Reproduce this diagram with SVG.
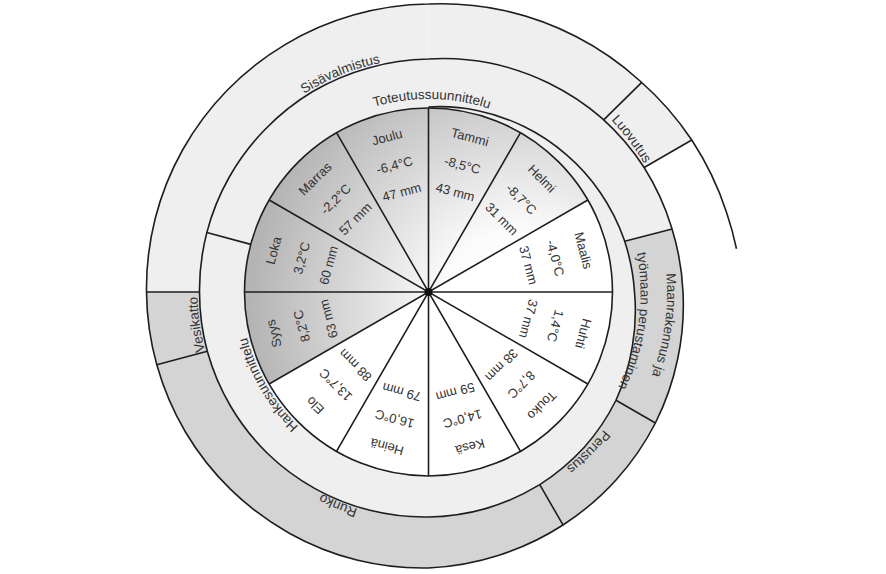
<svg xmlns="http://www.w3.org/2000/svg" width="886" height="574" viewBox="0 0 886 574">
<defs>
<style>
.ln{fill:none;stroke:#1e1e1e;stroke-width:1.6}
.lt{fill:#efefef}
.gr{fill:#d4d4d4}
text{font-family:"Liberation Sans",Arial,sans-serif;fill:#333}
.m{font-size:13px;text-anchor:middle}
.p{font-size:13.5px;text-anchor:middle}
.sh{fill:url(#wg)}
.wh{fill:#ffffff}
</style>
<radialGradient id="wg" gradientUnits="userSpaceOnUse" cx="520" cy="310" r="270">
<stop offset="0" stop-color="#ffffff"/>
<stop offset="0.3" stop-color="#fbfbfb"/>
<stop offset="1" stop-color="#b4b4b4"/>
</radialGradient>
<path id="tp1" d="M282.84 165.38 A193 193 0 0 1 578.49 170.54"/>
<path id="tp2" d="M205.95 219.69 A234 234 0 0 1 538.36 85.39"/>
<path id="tp3" d="M441.64 41.34 A251 251 0 0 1 673.07 348.46"/>
<path id="tp4" d="M605.74 132.41 A238.5 238.5 0 0 1 554.89 494.26"/>
<path id="tp5" d="M586.05 150.14 A212 212 0 0 1 540.84 471.79"/>
<path id="tp6" d="M650.65 272.56 A223 223 0 0 1 409.06 514.15"/>
<path id="tp7" d="M532.01 495.15 A228 228 0 0 1 210.46 358.66"/>
<path id="tp8" d="M306.09 487.9 A231 231 0 0 1 256.83 137.43"/>
<path id="tp9" d="M396.03 476.16 A187 187 0 0 1 252.78 228.04"/>
</defs>
<rect width="886" height="574" fill="#ffffff"/>
<g id="bands">
<path class="lt" d="M428.5 59 A235 235 0 0 1 489.84 63.08 A239 239 0 0 1 549 83.29 A243.3 243.3 0 0 1 602.09 118.41 A247.3 247.3 0 0 1 644.14 167.5 A250.3 250.3 0 0 1 671.43 226.91 A253 253 0 0 1 683 292 A256.3 256.3 0 0 1 677.71 358.78 A260 260 0 0 1 655.4 423 A263.8 263.8 0 0 1 616.24 479.74 A267.3 267.3 0 0 1 563 524.96 A270.8 270.8 0 0 1 499.03 555.21 A274.3 274.3 0 0 1 428.5 568 A276.8 276.8 0 0 1 356.68 560.04 A278 278 0 0 1 289.25 533.19 A279 279 0 0 1 230.86 489.64 A280 280 0 0 1 185.58 432.25 A281 281 0 0 1 156.79 364.81 A281.7 281.7 0 0 1 146.5 292 A282.5 282.5 0 0 1 155.14 218.75 A283.5 283.5 0 0 1 182.55 150 A284.5 284.5 0 0 1 226.97 90.47 A285.5 285.5 0 0 1 285.5 44.32 A286.5 286.5 0 0 1 354.22 14.78 A287.5 287.5 0 0 1 428.5 4 Z"/>
<path class="lt" d="M428.5 4 A289.8 289.8 0 0 1 503.95 10.43 A293.3 293.3 0 0 1 576 36.52 A296.9 296.9 0 0 1 639.78 80.72 A301.4 301.4 0 0 1 691.77 140 L644.14 167.5 A247.3 247.3 0 0 0 602.09 118.41 A243.3 243.3 0 0 0 549 83.29 A239 239 0 0 0 489.84 63.08 A235 235 0 0 0 428.5 59 Z"/>
<path class="gr" d="M672.09 229 A253 253 0 0 1 683 292 A256.3 256.3 0 0 1 677.71 358.78 A260 260 0 0 1 655.4 423 A263.8 263.8 0 0 1 616.24 479.74 A267.3 267.3 0 0 1 563 524.96 A270.8 270.8 0 0 1 499.03 555.21 A274.3 274.3 0 0 1 428.5 568 A276.8 276.8 0 0 1 356.68 560.04 A278 278 0 0 1 289.25 533.19 A279 279 0 0 1 230.86 489.64 A280 280 0 0 1 185.58 432.25 A281 281 0 0 1 156.79 364.81 A281.7 281.7 0 0 1 146.5 292 L199.5 292 A229 229 0 0 0 207.3 351.27 A228.8 228.8 0 0 0 230.61 406.25 A228.3 228.3 0 0 0 267.28 453.22 A227.5 227.5 0 0 0 315 488.59 A226.5 226.5 0 0 0 370.01 510.3 A225.5 225.5 0 0 0 428.5 517 A224.5 224.5 0 0 0 486.47 508.37 A223.3 223.3 0 0 0 539.75 484.69 A221.3 221.3 0 0 0 584.06 447.56 A218.3 218.3 0 0 0 615.99 400.25 A213.8 213.8 0 0 0 632.31 346.61 A208.5 208.5 0 0 0 634.5 292 A204.3 204.3 0 0 0 624.65 241.27 Z"/>
</g>
<g id="connectors">
<path class="ln" d="M428.5 107 A186.5 186.5 0 0 1 477.16 110.41 A189.5 189.5 0 0 1 524 126.59 A192.8 192.8 0 0 1 566.03 154.47 A196.5 196.5 0 0 1 600.4 192.75 A200.5 200.5 0 0 1 624.1 239.59 A204.3 204.3 0 0 1 634.5 292 A208.5 208.5 0 0 1 632.31 346.61 A213.8 213.8 0 0 1 615.99 400.25 A218.3 218.3 0 0 1 584.06 447.56 A221.3 221.3 0 0 1 539.75 484.69 A223.3 223.3 0 0 1 486.47 508.37 A224.5 224.5 0 0 1 428.5 517 A225.5 225.5 0 0 1 370.01 510.3 A226.5 226.5 0 0 1 315 488.59 A227.5 227.5 0 0 1 267.28 453.22 A228.3 228.3 0 0 1 230.61 406.25 A228.8 228.8 0 0 1 207.3 351.27 A229 229 0 0 1 199.5 292 A229.3 229.3 0 0 1 206.82 232.6 A229.8 229.8 0 0 1 229.31 177 A230.3 230.3 0 0 1 265.51 129.01 A231 231 0 0 1 312.75 91.52 A231.8 231.8 0 0 1 368.45 67.91 A232.5 232.5 0 0 1 428.5 59 A235 235 0 0 1 489.84 63.08 A239 239 0 0 1 549 83.29 A243.3 243.3 0 0 1 602.09 118.41 A247.3 247.3 0 0 1 644.14 167.5 A250.3 250.3 0 0 1 671.43 226.91 A253 253 0 0 1 683 292 A256.3 256.3 0 0 1 677.71 358.78 A260 260 0 0 1 655.4 423 A263.8 263.8 0 0 1 616.24 479.74 A267.3 267.3 0 0 1 563 524.96 A270.8 270.8 0 0 1 499.03 555.21 A274.3 274.3 0 0 1 428.5 568 A276.8 276.8 0 0 1 356.68 560.04 A278 278 0 0 1 289.25 533.19 A279 279 0 0 1 230.86 489.64 A280 280 0 0 1 185.58 432.25 A281 281 0 0 1 156.79 364.81 A281.7 281.7 0 0 1 146.5 292 A282.5 282.5 0 0 1 155.14 218.75 A283.5 283.5 0 0 1 182.55 150 A284.5 284.5 0 0 1 226.97 90.47 A285.5 285.5 0 0 1 285.5 44.32 A286.5 286.5 0 0 1 354.22 14.78 A287.5 287.5 0 0 1 428.5 4 A289.8 289.8 0 0 1 503.95 10.43 A293.3 293.3 0 0 1 576 36.52 A296.9 296.9 0 0 1 639.78 80.72 A301.4 301.4 0 0 1 691.77 140 A306.3 306.3 0 0 1 726.49 212.15 A309.8 309.8 0 0 1 736.47 248.72"/>
<path class="ln" d="M250.77 244.38 L206.82 232.6 M624.65 241.27 L672.09 229 M615.99 400.25 L655.4 423 M539.75 484.69 L563 524.96 M207.3 351.27 L156.79 364.81 M199.5 292 L146.5 292 M603.67 119.86 L641.76 82.43 M644.14 167.5 L691.77 140"/>
</g>
<g id="hankesuunnittelu"><text class="p"><textPath href="#tp9" startOffset="50%">Hankesuunnittelu</textPath></text></g>
<g id="toteutussuunnittelu"><text class="p"><textPath href="#tp1" startOffset="50%">Toteutussuunnittelu</textPath></text></g>
<g id="maanrakennus"><text class="p"><textPath href="#tp4" startOffset="50%">Maanrakennus ja</textPath></text><text class="p"><textPath href="#tp5" startOffset="50%">työmaan perustaminen</textPath></text></g>
<g id="perustus"><text class="p"><textPath href="#tp6" startOffset="50%">Perustus</textPath></text></g>
<g id="runko"><text class="p"><textPath href="#tp7" startOffset="50%">Runko</textPath></text></g>
<g id="vesikatto"><text class="p"><textPath href="#tp8" startOffset="50%">Vesikatto</textPath></text></g>
<g id="sisavalmistus"><text class="p"><textPath href="#tp2" startOffset="50%">Sisävalmistus</textPath></text></g>
<g id="luovutus"><text class="p"><textPath href="#tp3" startOffset="50%">Luovutus</textPath></text></g>
<g id="months">
<g id="tammi"><path class="sh" d="M428.5 292 L428.5 108 A184 184 0 0 1 520.5 132.65 Z"/><g transform="rotate(15 428.5 292)"><text class="m" x="428.5" y="136.2">Tammi</text><text class="m" x="428.5" y="165.2">-8,5°C</text><text class="m" x="428.5" y="193">43 mm</text></g></g>
<g id="helmi"><path class="sh" d="M428.5 292 L520.5 132.65 A184 184 0 0 1 587.85 200 Z"/><g transform="rotate(45 428.5 292)"><text class="m" x="428.5" y="136.2">Helmi</text><text class="m" x="428.5" y="165.2">-8,7°C</text><text class="m" x="428.5" y="193">31 mm</text></g></g>
<g id="maalis"><path class="wh" d="M428.5 292 L587.85 200 A184 184 0 0 1 612.5 292 Z"/><g transform="rotate(75 428.5 292)"><text class="m" x="428.5" y="136.2">Maalis</text><text class="m" x="428.5" y="165.2">-4,0°C</text><text class="m" x="428.5" y="193">37 mm</text></g></g>
<g id="huhti"><path class="wh" d="M428.5 292 L612.5 292 A184 184 0 0 1 587.85 384 Z"/><g transform="rotate(105 428.5 292)"><text class="m" x="428.5" y="136.2">Huhti</text><text class="m" x="428.5" y="165.2">1,4°C</text><text class="m" x="428.5" y="193">37 mm</text></g></g>
<g id="touko"><path class="wh" d="M428.5 292 L587.85 384 A184 184 0 0 1 520.5 451.35 Z"/><g transform="rotate(135 428.5 292)"><text class="m" x="428.5" y="136.2">Touko</text><text class="m" x="428.5" y="165.2">8,7°C</text><text class="m" x="428.5" y="193">38 mm</text></g></g>
<g id="kesa"><path class="wh" d="M428.5 292 L520.5 451.35 A184 184 0 0 1 428.5 476 Z"/><g transform="rotate(165 428.5 292)"><text class="m" x="428.5" y="136.2">Kesä</text><text class="m" x="428.5" y="165.2">14,0°C</text><text class="m" x="428.5" y="193">59 mm</text></g></g>
<g id="heina"><path class="wh" d="M428.5 292 L428.5 476 A184 184 0 0 1 336.5 451.35 Z"/><g transform="rotate(195 428.5 292)"><text class="m" x="428.5" y="136.2">Heinä</text><text class="m" x="428.5" y="165.2">16,0°C</text><text class="m" x="428.5" y="193">79 mm</text></g></g>
<g id="elo"><path class="wh" d="M428.5 292 L336.5 451.35 A184 184 0 0 1 269.15 384 Z"/><g transform="rotate(225 428.5 292)"><text class="m" x="428.5" y="136.2">Elo</text><text class="m" x="428.5" y="165.2">13,7°C</text><text class="m" x="428.5" y="193">88 mm</text></g></g>
<g id="syys"><path class="sh" d="M428.5 292 L269.15 384 A184 184 0 0 1 244.5 292 Z"/><g transform="rotate(255 428.5 292)"><text class="m" x="428.5" y="136.2">Syys</text><text class="m" x="428.5" y="165.2">8,2°C</text><text class="m" x="428.5" y="193">63 mm</text></g></g>
<g id="loka"><path class="sh" d="M428.5 292 L244.5 292 A184 184 0 0 1 269.15 200 Z"/><g transform="rotate(285 428.5 292)"><text class="m" x="428.5" y="136.2">Loka</text><text class="m" x="428.5" y="165.2">3,2°C</text><text class="m" x="428.5" y="193">60 mm</text></g></g>
<g id="marras"><path class="sh" d="M428.5 292 L269.15 200 A184 184 0 0 1 336.5 132.65 Z"/><g transform="rotate(315 428.5 292)"><text class="m" x="428.5" y="136.2">Marras</text><text class="m" x="428.5" y="165.2">-2,2°C</text><text class="m" x="428.5" y="193">57 mm</text></g></g>
<g id="joulu"><path class="sh" d="M428.5 292 L336.5 132.65 A184 184 0 0 1 428.5 108 Z"/><g transform="rotate(345 428.5 292)"><text class="m" x="428.5" y="136.2">Joulu</text><text class="m" x="428.5" y="165.2">-6,4°C</text><text class="m" x="428.5" y="193">47 mm</text></g></g>
</g>
<g id="pie-lines">
<circle class="ln" cx="428.5" cy="292" r="184"/>
<path class="ln" d="M428.5 108 L428.5 476 M520.5 132.65 L336.5 451.35 M587.85 200 L269.15 384 M612.5 292 L244.5 292 M587.85 384 L269.15 200 M520.5 451.35 L336.5 132.65"/>
<circle cx="428.5" cy="292" r="4" fill="#111"/>
</g>
</svg>
